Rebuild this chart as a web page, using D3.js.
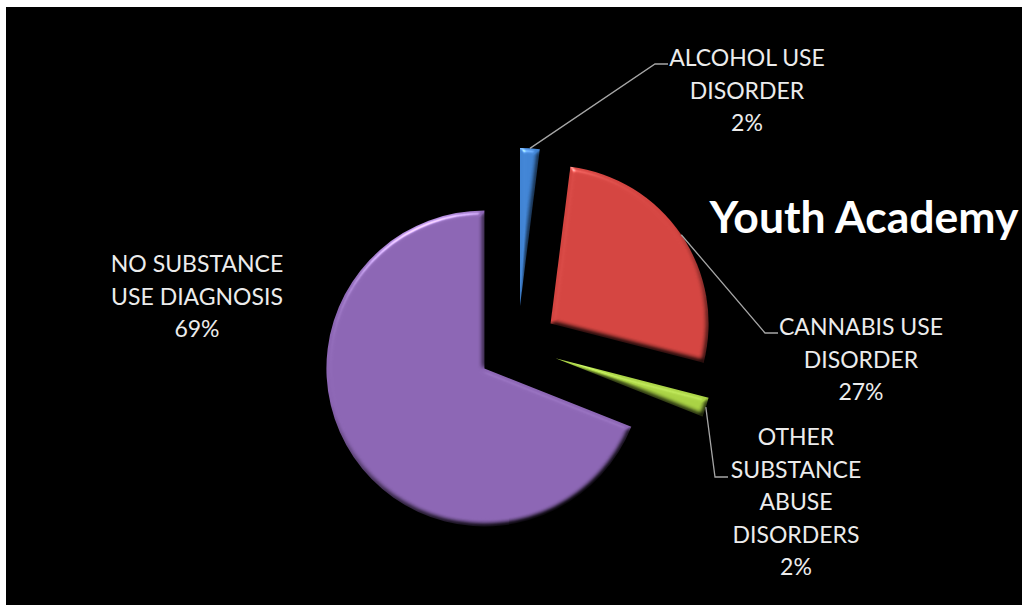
<!DOCTYPE html>
<html>
<head>
<meta charset="utf-8">
<script src="https://cdn.jsdelivr.net/npm/d3@7"></script>
<style>
  html, body { margin: 0; padding: 0; background: #ffffff; }
  svg { display: block; }
</style>
</head>
<body>
<svg id="chart" width="1023" height="605"></svg>
<script>
// Diagnosis breakdown, Youth Academy
const categories = [
  "ALCOHOL USE DISORDER",
  "CANNABIS USE DISORDER",
  "OTHER SUBSTANCE ABUSE DISORDERS",
  "NO SUBSTANCE USE DIAGNOSIS"
];
const values = [2, 27, 2, 69];
const labelLines = [
  ["ALCOHOL USE", "DISORDER"],
  ["CANNABIS USE", "DISORDER"],
  ["OTHER", "SUBSTANCE", "ABUSE", "DISORDERS"],
  ["NO SUBSTANCE", "USE DIAGNOSIS"]
];
const sliceColors = ["#3f7fcd", "#cd433f", "#a3cb42", "#8762ae"];
const chartTitle = "Youth Academy";

// layout
const W = 1023, H = 605;
const cx = 517.5, cy = 346, radius = 158, explode = 40;
const lineGap = 32.5;
// label anchor (centre x, first baseline) and leader elbow per slice; null = no leader
const labelLayout = [
  { x: 747, y: 66,  elbow: [[655, 64], [668, 64]] },
  { x: 861, y: 335, elbow: [[765, 333], [778, 333]] },
  { x: 796, y: 445, elbow: [[715, 477], [728, 477]] },
  { x: 197, y: 272, elbow: null }
];

const svg = d3.select("#chart");

// black plot area
svg.append("rect")
  .attr("x", 6).attr("y", 7)
  .attr("width", 1016).attr("height", H - 7)
  .attr("fill", "#000");

const defs = svg.append("defs");

// soft round bevel lit from upper left
const lightAz = -115, lightEl = 40;
const bevel = defs.append("filter")
  .attr("id", "bevel")
  .attr("x", "-20%").attr("y", "-20%")
  .attr("width", "140%").attr("height", "140%")
  .attr("color-interpolation-filters", "sRGB");
bevel.append("feGaussianBlur")
  .attr("in", "SourceAlpha").attr("stdDeviation", 2.6).attr("result", "blur");
bevel.append("feDiffuseLighting")
  .attr("in", "blur").attr("surfaceScale", 2.5)
  .attr("diffuseConstant", 1 / Math.sin(lightEl * Math.PI / 180))
  .attr("lighting-color", "#fff").attr("result", "diff")
  .append("feDistantLight").attr("azimuth", lightAz).attr("elevation", lightEl);
bevel.append("feComposite")
  .attr("in", "SourceGraphic").attr("in2", "diff")
  .attr("operator", "arithmetic")
  .attr("k1", 1).attr("k2", 0).attr("k3", 0).attr("k4", 0)
  .attr("result", "shaded");
bevel.append("feSpecularLighting")
  .attr("in", "blur").attr("surfaceScale", 2.5)
  .attr("specularConstant", 0.45).attr("specularExponent", 45)
  .attr("lighting-color", "#fff").attr("result", "spec")
  .append("feDistantLight").attr("azimuth", lightAz).attr("elevation", lightEl);
bevel.append("feComposite")
  .attr("in", "spec").attr("in2", "SourceAlpha")
  .attr("operator", "in").attr("result", "specIn");
bevel.append("feComposite")
  .attr("in", "shaded").attr("in2", "specIn")
  .attr("operator", "arithmetic")
  .attr("k1", 0).attr("k2", 1).attr("k3", 1).attr("k4", 0);

// vertical tone per slice
sliceColors.forEach((c, i) => {
  const g = defs.append("linearGradient")
    .attr("id", "grad" + i)
    .attr("gradientUnits", "userSpaceOnUse")
    .attr("x1", 0).attr("y1", cy - radius - explode)
    .attr("x2", 0).attr("y2", cy + radius + explode);
  g.append("stop").attr("offset", "0%").attr("stop-color", d3.color(c).brighter(0.1));
  g.append("stop").attr("offset", "100%").attr("stop-color", d3.color(c).darker(0.2));
});

const pie = d3.pie().sort(null).value(d => d);
const arcs = pie(values);
const arc = d3.arc().innerRadius(0).outerRadius(radius);

const offsetOf = d => {
  const mid = (d.startAngle + d.endAngle) / 2;
  return [Math.sin(mid) * explode, -Math.cos(mid) * explode];
};

const slices = svg.append("g")
  .attr("transform", `translate(${cx},${cy})`);

slices.selectAll("path.slice")
  .data(arcs)
  .join("path")
  .attr("class", "slice")
  .attr("d", arc)
  .attr("transform", d => {
    const [dx, dy] = offsetOf(d);
    return `translate(${dx},${dy})`;
  })
  .attr("fill", (d, i) => `url(#grad${i})`)
  .attr("filter", "url(#bevel)");

// leader lines
const leaders = svg.append("g");
arcs.forEach((d, i) => {
  const lay = labelLayout[i];
  if (!lay.elbow) return;
  const mid = (d.startAngle + d.endAngle) / 2;
  const [dx, dy] = offsetOf(d);
  const start = [cx + dx + Math.sin(mid) * radius, cy + dy - Math.cos(mid) * radius];
  leaders.append("path")
    .attr("d", d3.line()([start, ...lay.elbow]))
    .attr("fill", "none")
    .attr("stroke", "#a6a6a6")
    .attr("stroke-width", 1.3);
});

// data labels
const fmt = d3.format(".0%");
const total = d3.sum(values);
const labels = svg.append("g")
  .attr("font-family", "Lato, 'Open Sans', sans-serif")
  .attr("font-size", 23)
  .attr("fill", "#ececec")
  .attr("text-anchor", "middle");

labelLayout.forEach((lay, i) => {
  const lines = labelLines[i].concat([fmt(values[i] / total)]);
  const t = labels.append("text")
    .attr("x", lay.x).attr("y", lay.y);
  lines.forEach((ln, k) => {
    t.append("tspan")
      .attr("x", lay.x)
      .attr("y", lay.y + k * lineGap)
      .text(ln);
  });
});

// title
svg.append("text")
  .attr("x", 864).attr("y", 233)
  .attr("text-anchor", "middle")
  .attr("font-family", "Lato, 'Open Sans', sans-serif")
  .attr("font-weight", "bold")
  .attr("font-size", 44.5)
  .attr("fill", "#ffffff")
  .text(chartTitle);
</script>
</body>
</html>
